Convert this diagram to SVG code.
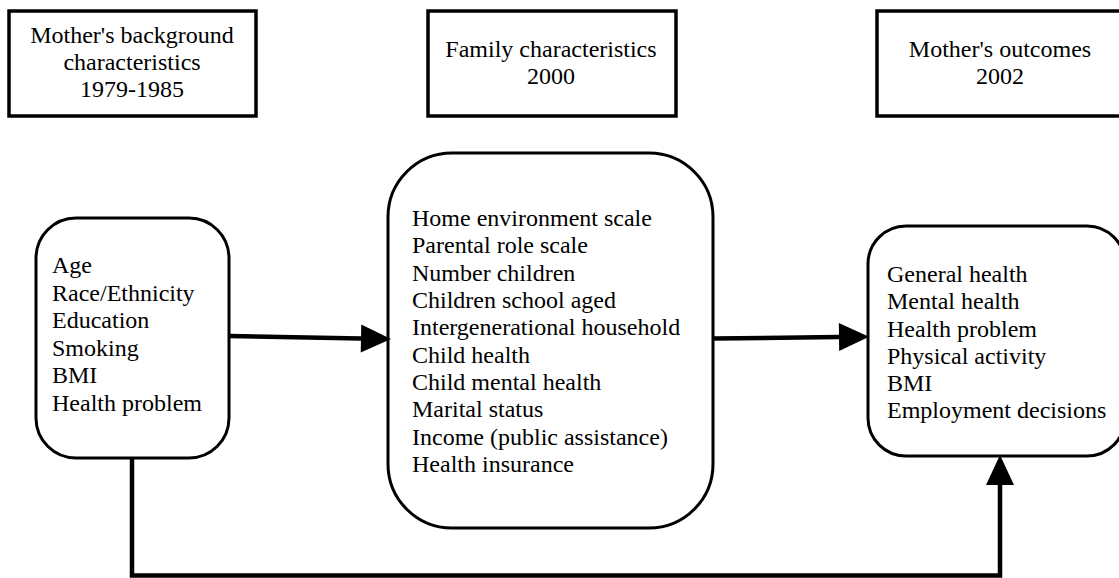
<svg xmlns="http://www.w3.org/2000/svg" width="1119" height="578" viewBox="0 0 1119 578">
  <style>
    .hdr { fill: #fff; stroke: #000; stroke-width: 3.5; }
    .box { fill: #fff; stroke: #000; stroke-width: 3; }
    .lbl { font-family: "Liberation Serif", "Times New Roman", serif; font-size: 24px; fill: #000; }
    .mid { text-anchor: middle; }
    .wire { fill: none; stroke: #000; stroke-width: 4.5; }
  </style>
  <defs>
    <marker id="head" markerUnits="userSpaceOnUse" markerWidth="31" markerHeight="29" refX="0" refY="14" orient="auto" overflow="visible">
      <path d="M0,0 L30,14 L0,28 z" fill="#000"/>
    </marker>
  </defs>

  <rect width="1119" height="578" fill="#fff"/>

  <!-- period headers -->
  <g id="hdr-background">
    <rect class="hdr" x="9" y="11" width="247" height="105"/>
    <text class="lbl mid" x="132" y="43">Mother's background</text>
    <text class="lbl mid" x="132" y="70">characteristics</text>
    <text class="lbl mid" x="132" y="97">1979-1985</text>
  </g>
  <g id="hdr-family">
    <rect class="hdr" x="428" y="11" width="248" height="105"/>
    <text class="lbl mid" x="551" y="57">Family characteristics</text>
    <text class="lbl mid" x="551" y="84">2000</text>
  </g>
  <g id="hdr-outcomes">
    <rect class="hdr" x="877" y="11" width="247" height="105"/>
    <text class="lbl mid" x="1000" y="57">Mother's outcomes</text>
    <text class="lbl mid" x="1000" y="84">2002</text>
  </g>

  <!-- variable boxes -->
  <g id="node-background">
    <rect class="box" x="36" y="218" width="193" height="240" rx="40" ry="40"/>
    <text class="lbl" x="52" y="273">Age</text>
    <text class="lbl" x="52" y="300.5">Race/Ethnicity</text>
    <text class="lbl" x="52" y="328">Education</text>
    <text class="lbl" x="52" y="355.5">Smoking</text>
    <text class="lbl" x="52" y="383">BMI</text>
    <text class="lbl" x="52" y="410.5">Health problem</text>
  </g>
  <g id="node-family">
    <rect class="box" x="388" y="153" width="325" height="375" rx="64" ry="64"/>
    <text class="lbl" x="412" y="226">Home environment scale</text>
    <text class="lbl" x="412" y="253.3">Parental role scale</text>
    <text class="lbl" x="412" y="280.7">Number children</text>
    <text class="lbl" x="412" y="308">Children school aged</text>
    <text class="lbl" x="412" y="335.4">Intergenerational household</text>
    <text class="lbl" x="412" y="362.7">Child health</text>
    <text class="lbl" x="412" y="390">Child mental health</text>
    <text class="lbl" x="412" y="417.4">Marital status</text>
    <text class="lbl" x="412" y="444.8">Income (public assistance)</text>
    <text class="lbl" x="412" y="472.2">Health insurance</text>
  </g>
  <g id="node-outcomes">
    <rect class="box" x="868" y="226" width="257" height="230" rx="38" ry="38"/>
    <text class="lbl" x="887" y="282">General health</text>
    <text class="lbl" x="887" y="309">Mental health</text>
    <text class="lbl" x="887" y="336.5">Health problem</text>
    <text class="lbl" x="887" y="363.5">Physical activity</text>
    <text class="lbl" x="887" y="391">BMI</text>
    <text class="lbl" x="887" y="418">Employment decisions</text>
  </g>

  <!-- connectors -->
  <g id="connectors">
    <path class="wire" d="M229,336 L361,338.5" marker-end="url(#head)"/>
    <path class="wire" d="M713,338.5 L839,337" marker-end="url(#head)"/>
    <path class="wire" d="M132,459 V575.5 H1000 V485" marker-end="url(#head)"/>
  </g>
</svg>
